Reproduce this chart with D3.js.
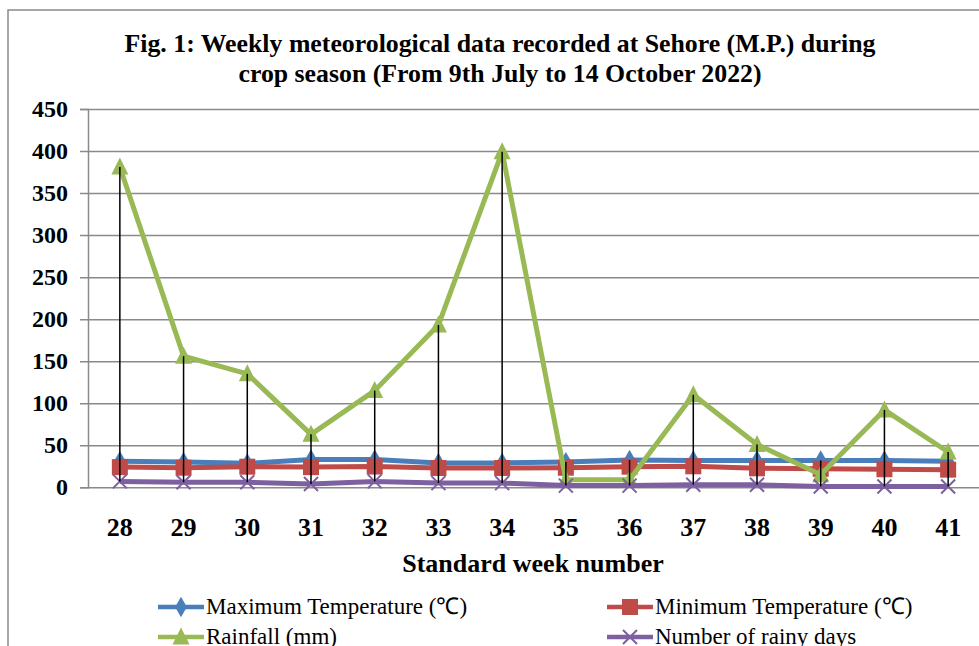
<!DOCTYPE html>
<html><head><meta charset="utf-8">
<script src="https://cdn.jsdelivr.net/npm/d3@7"></script>
<style>body{margin:0;background:#fff}svg{display:block}svg text{font-family:"Liberation Serif","Times New Roman",serif;}</style>
</head><body>
<svg id="c" width="979" height="646"></svg>
<script>
const weeks = ["28","29","30","31","32","33","34","35","36","37","38","39","40","41"];
const maxTemp = [31,30,28.5,33,33,29,29,30,32.5,32,32,32,32,31];
const minTemp = [24,23.3,24.5,24,24.7,23,23,23.3,24.5,25,22.6,22,21.5,21];
const rainfall = [381,156,135,63,115,193,399,9,9,110,51,15,92,42];
const rainyDays = [7,6,6,4,7,5,5,2,2,3,3,1,1,1];
const yTicks = [0,50,100,150,200,250,300,350,400,450];
const titleLines = ["Fig. 1: Weekly meteorological data recorded at Sehore (M.P.) during","crop season (From 9th July to 14 October 2022)"];
const xTitle = "Standard week number";
const seriesNames = ["Maximum Temperature (\u2103)","Minimum Temperature (\u2103)","Rainfall (mm)","Number of rainy days"];

const svg = d3.select("#c");
const L=88, R=980, T=109, B=487.3;
const x = d3.scaleBand().domain(weeks).range([L,R]);
const y = d3.scaleLinear().domain([0,450]).range([B,T]);
const cx = w => x(w)+x.bandwidth()/2;

// outer frame
svg.append("path").attr("d","M8,700 L8,10 L990,10").attr("fill","none").attr("stroke","#8a8a8a").attr("stroke-width",1.5);

// title
svg.append("g").selectAll("text").data(titleLines).join("text")
  .attr("x",500).attr("y",(d,i)=>52+i*30).attr("text-anchor","middle")
  .attr("font-weight","bold").attr("font-size",25.8).text(d=>d);

// gridlines & y axis
const yAxis = d3.axisLeft(y).tickValues(yTicks).tickSize(8).tickPadding(12);
const gy = svg.append("g").attr("transform",`translate(${L},0)`).call(yAxis);
gy.attr("font-family",null).attr("font-size",null);
gy.select(".domain").attr("stroke","#8a8a8a").attr("stroke-width",1.5);
gy.selectAll(".tick line").attr("stroke","#8a8a8a").attr("stroke-width",1.5).attr("x2",R-L).attr("x1",-8);
gy.selectAll(".tick text").attr("font-weight","bold").attr("font-size",24).attr("fill","#000").attr("x",-20);

// x axis labels
const xAxis = d3.axisBottom(x).tickSize(0).tickPadding(30);
const gx = svg.append("g").attr("transform",`translate(0,${B})`).call(xAxis);
gx.attr("font-family",null).attr("font-size",null);
gx.select(".domain").remove();
gx.selectAll(".tick text").attr("font-weight","bold").attr("font-size",26).attr("fill","#000");

svg.append("text").attr("x",533).attr("y",572).attr("text-anchor","middle")
  .attr("font-weight","bold").attr("font-size",26).text(xTitle);

const series = [
  {vals:maxTemp,color:"#4a7ebb",type:"diamond"},
  {vals:minTemp,color:"#be4b48",type:"square"},
  {vals:rainfall,color:"#98b954",type:"triangle"},
  {vals:rainyDays,color:"#7d60a0",type:"x"}
];
function marker(g,type,color){
  if(type==="diamond") g.append("path").attr("d",d3.symbol(d3.symbolDiamond,120)()).attr("fill",color);
  else if(type==="square") g.append("rect").attr("x",-8).attr("y",-8).attr("width",16).attr("height",16).attr("fill",color);
  else if(type==="triangle") g.append("path").attr("d","M0,-9.5 L8.5,7.5 L-8.5,7.5 Z").attr("fill",color);
  else g.append("path").attr("d","M-7,-7 L7,7 M-7,7 L7,-7").attr("stroke",color).attr("stroke-width",2).attr("fill","none");
}
const line = d3.line().x((d,i)=>cx(weeks[i])).y(d=>y(d));
series.forEach(s=>{
  svg.append("path").datum(s.vals).attr("d",line).attr("fill","none").attr("stroke",s.color).attr("stroke-width",5).attr("stroke-linejoin","round");
  s.vals.forEach((v,i)=>{
    const g=svg.append("g").attr("transform",`translate(${cx(weeks[i])},${y(v)})`);
    marker(g,s.type,s.color);
  });
});

// high-low lines
svg.append("g").selectAll("line").data(weeks).join("line")
  .attr("x1",d=>cx(d)).attr("x2",d=>cx(d))
  .attr("y1",(d,i)=>y(Math.max(maxTemp[i],minTemp[i],rainfall[i],rainyDays[i])))
  .attr("y2",(d,i)=>y(Math.min(maxTemp[i],minTemp[i],rainfall[i],rainyDays[i])))
  .attr("stroke","#000").attr("stroke-width",1.5);

// legend
const legPos = [[158,607],[607,607],[158,637],[607,637]];
series.forEach((s,i)=>{
  const [lx,ly]=legPos[i];
  svg.append("line").attr("x1",lx).attr("x2",lx+46).attr("y1",ly).attr("y2",ly).attr("stroke",s.color).attr("stroke-width",4.5);
  const g=svg.append("g").attr("transform",`translate(${lx+23},${ly})`);
  marker(g,s.type,s.color);
  svg.append("text").attr("x",lx+48).attr("y",ly+7).attr("font-size",23).text(seriesNames[i]);
});
</script>
</body></html>
